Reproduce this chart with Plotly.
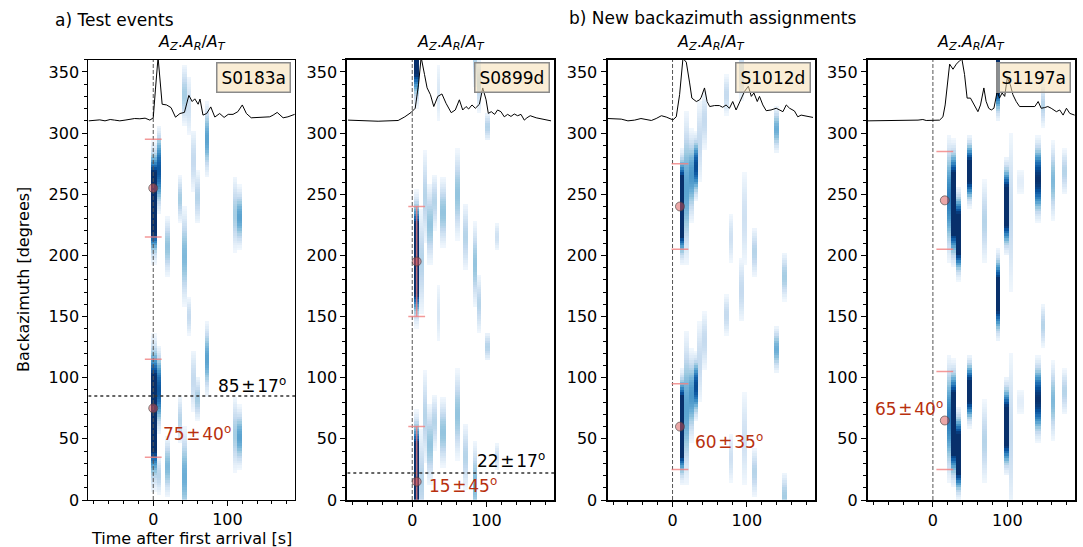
import numpy as np
import plotly.graph_objects as go

W, H = 1083, 547

# ---------------- data ----------------
event_names = ["S0183a", "S0899d", "S1012d", "S1197a"]

# Az.Ar/At characteristic trace (time [s], plotted value on baz axis)
p1_t = [-87,-78,-72,-65,-58,-52,-45,-38,-31,-25,-18,-11,-4.5,0,3,6.5,12,18,24,30,36,42,48,52.5,56,60.5,63,67,72,77.5,83,89.5,95.5,101,107.5,114,120,125.5,132,141,150,157,161.5,167,175,181.5,190.5]
p1_v = [310,310.3,310.8,310,311.1,310.6,310,310.6,311.1,311.9,311.7,312.2,310.6,312.5,336,362,323.6,323,320.8,313,316,316.9,330.8,325.8,328,323.6,327.8,314.7,316,321.4,313.1,316,312.8,315.3,315.3,317.5,323,316,312.5,313,313,313.3,314.7,316.9,312.5,313.3,315.3]
p2_t = [-86.5,-68.5,-46,-19,-10,-1.5,4,8.5,12,16.5,20,24.5,29,34.5,40,45.5,52.5,58,63.5,68,72.5,76,80.5,85,90.5,95,99.5,102.5,106.5,111,115,119.5,124,128.5,133,137.5,142,146.5,151,154.5,159,167,176,187]
p2_v = [310.6,310,309.7,310.3,313.3,316.9,320.3,340,362,348,337,331.4,321.7,330,332,324.4,316.7,318.9,327.2,318.9,321.7,319.7,323,320.3,323.6,336.9,327.2,316.1,317.5,315.3,318.9,317.5,313.3,315.3,313.6,315.6,314.2,315.3,310.6,312.5,314.2,312.5,311.1,310]
p3_t = [-87,-78,-69,-60,-51,-42.5,-35.5,-28.5,-22,-15,-8.5,-4,0.5,5,9.5,14,18.5,23,26,32,36.5,38.5,43,46.5,50,56.5,63,67.5,72,76.5,81,85.5,92.5,97,102,106,109.5,114,117,121.5,126,132.5,139.5,144,148.5,153,157.5,164,168.5,173,180,189]
p3_v = [311.9,311.4,311.4,310,310.6,311.9,311.1,310.3,311.9,314.2,313.1,311.9,310.8,313.3,331.4,361,358,341,328.6,325.8,327.2,329.2,336.9,325.8,321.7,322.5,322.5,321.1,323,320.3,325.8,318.9,328.6,334.2,338.3,330,332.8,325.8,330,323,318.3,318.9,320.3,318.9,317.5,323,320.3,318.1,313.3,314.7,313.9,312.8]
p4_t = [-87.5,-65,-38,-20,-13.5,-9,9,13.5,16.5,20,22.5,27,31.5,36,39,42.5,46,50.5,55,60.5,64,68.5,71.5,75,78.5,82,86.5,89.5,93,96.5,100,104,107.5,112,116.5,123,130,137,141.5,145.5,150,154.5,159,166,170.5,175,179.5,184,190.5]
p4_v = [310,310,310.3,310.6,311.1,310.3,310.6,313.3,323,342.5,356.4,352.2,356.4,359.2,360.5,348,328.6,328.6,323,317.5,323,336.9,326,320.3,318.9,320.3,334.2,328.6,332.8,330,345.3,339.7,331.4,325.8,321.7,321.7,321.7,321.7,325.8,320.3,320.8,321.7,320.3,317.5,318.9,314.7,320.3,316.1,314.7]

# Polarisation-density stripes:
# [t_start, t_end, baz_low, baz_high, peak_intensity]
p1_stripes = [
    [-2, 5.5, 188, 298, 1.8], [-2, 5.5, 0, 142, 1.7],
    [5.5, 11, 228, 312, 0.85], [5.5, 11, 48, 132, 0.85], [5.5, 11, 0, 40, 0.3],
    [16, 22.5, 177, 237, 0.4], [16, 22.5, -3, 57, 0.45],
    [33.5, 40, 222, 270, 0.35], [33.5, 40, 40, 90, 0.3],
    [40, 46, 300, 362, 0.35], [40, 46, 150, 248, 0.45], [40, 46, -30, 68, 0.5],
    [46, 52, 130, 170, 0.25], [46, 52, 290, 355, 0.2],
    [52, 58, 245, 310, 0.25], [52, 58, 65, 130, 0.25],
    [57, 64, 220, 275, 0.3], [57, 64, 60, 105, 0.35],
    [69.5, 76, 258, 332, 0.55], [69.5, 76, 78, 152, 0.55],
    [107.5, 114, 195, 272, 0.35], [107.5, 114, 15, 92, 0.35],
    [114, 120, 200, 262, 0.55], [114, 120, 20, 82, 0.55],
]
p2_stripes = [
    [3, 10, 136, 258, 1.9], [3, 10, -44, 78, 1.9], [3, 10, 316, 438, 1.9],
    [10, 17, 140, 250, 0.3], [10, 17, -40, 70, 0.3],
    [14.5, 21, 200, 296, 0.3], [14.5, 21, 20, 116, 0.3],
    [21, 28, 185, 265, 0.4], [21, 28, 5, 85, 0.4],
    [27, 33.5, 215, 272, 0.3], [27, 33.5, 35, 92, 0.3],
    [33.5, 38, 300, 365, 0.15], [33.5, 38, 120, 185, 0.15],
    [38, 46, 200, 270, 0.4], [38, 46, 20, 90, 0.4],
    [58, 65, 205, 295, 0.4], [58, 65, 25, 115, 0.4],
    [69, 75.5, 180, 250, 0.3], [69, 75.5, 0, 70, 0.3],
    [83, 88, 150, 235, 0.4], [83, 88, -30, 55, 0.45], [83, 88, 330, 415, 0.4],
    [88, 94, 310, 370, 0.3], [88, 94, 130, 190, 0.3],
    [98.5, 105, 290, 320, 0.3], [98.5, 105, 110, 140, 0.3],
    [112, 118, 200, 230, 0.2], [112, 118, 20, 50, 0.2],
]
p3_stripes = [
    [10, 16, 188, 292, 1.9], [10, 16, 8, 112, 1.9],
    [16, 22, 180, 330, 0.55], [16, 22, 0, 150, 0.55],
    [22, 28.5, 220, 310, 0.6], [22, 28.5, 40, 130, 0.6],
    [28.5, 35, 240, 305, 0.9], [28.5, 35, 60, 125, 0.9],
    [33, 39.5, 250, 335, 0.25], [33, 39.5, 70, 155, 0.25],
    [39.5, 46.5, 100, 160, 0.25], [39.5, 46.5, 280, 340, 0.25],
    [69, 75.5, 130, 172, 0.25], [69, 75.5, 310, 352, 0.25],
    [75.5, 82, 188, 240, 0.2], [75.5, 82, 8, 60, 0.2],
    [89, 96, 138, 205, 0.25], [89, 96, 318, 385, 0.25],
    [94, 100.5, 180, 280, 0.2], [94, 100.5, 0, 100, 0.2],
    [107, 114, 177, 228, 0.3], [107, 114, -3, 48, 0.3],
    [136, 143, 280, 326, 0.5], [136, 143, 100, 146, 0.5],
    [147.5, 154, 158, 207, 0.35], [147.5, 154, -22, 27, 0.35],
]
p4_stripes = [
    [18.5, 24.5, 185, 307, 0.7], [18.5, 24.5, 5, 127, 0.7],
    [24.5, 32, 185, 300, 1.7], [24.5, 32, 5, 120, 1.7],
    [32, 37.5, 175, 260, 1.5], [32, 37.5, -5, 80, 1.5],
    [45.5, 53, 235, 302, 1.2], [45.5, 53, 55, 122, 1.2],
    [66.5, 73, 185, 270, 0.3], [66.5, 73, 5, 90, 0.3],
    [84.5, 91, 125, 210, 1.3], [84.5, 91, 305, 390, 1.3],
    [95.5, 102.5, 195, 285, 1.4], [95.5, 102.5, 15, 105, 1.4],
    [102, 108, 150, 320, 0.25], [102, 108, -30, 140, 0.25],
    [113, 122.5, 245, 275, 0.1], [113, 122.5, 65, 95, 0.1],
    [138, 145, 222, 302, 1.0], [138, 145, 42, 122, 1.0],
    [145, 151, 300, 345, 0.3], [145, 151, 120, 165, 0.3],
    [158.5, 164, 222, 300, 0.45], [158.5, 164, 42, 120, 0.45],
    [174, 180, 245, 292, 0.3], [174, 180, 65, 112, 0.3],
]

# picked backazimuths (with 180 deg ambiguity) and uncertainties
pick_t = [0, 6, 10, 16]
pick_baz = [75, 15, 60, 65]
pick_baz_alt = [255, 195, 240, 245]
pick_err = [40, 45, 35, 40]
# whether the error-bar stem is visible (it is hidden under the density map except for S0899d)
stem_visible = [False, True, False, False]

# catalogue reference backazimuths (first two events)
ref_baz = [85, 22]
ref_err = [17, 17]

trace_t = [p1_t, p2_t, p3_t, p4_t]
trace_v = [p1_v, p2_v, p3_v, p4_v]
stripes = [p1_stripes, p2_stripes, p3_stripes, p4_stripes]

# ---------------- layout helpers ----------------
px_x = [(88.3, 295.0), (347.3, 554.0), (607.5, 814.5), (867.8, 1075.0)]
y_top, y_bot = 59.7, 500.0
XR = [-87.5, 191]
FONT = "DejaVu Sans"
RED = "#b8300e"
PINK = "rgba(240,128,128,0.8)"
HS = "\u200a"

t_c = np.arange(-87.0, 191.0, 1.0)
b_c = np.arange(1.0, 360.0, 2.0)


def build_z(st):
    z = np.zeros((len(b_c), len(t_c)))
    for t0, t1, lo, hi, pk in st:
        c = 0.5 * (lo + hi)
        hw = 0.5 * (hi - lo)
        cols = (t_c >= t0) & (t_c < t1)
        d = (b_c - c) / hw
        prof = np.where(np.abs(d) < 1, 0.5 * (1 + np.cos(np.pi * d)), 0.0) * pk
        z[:, cols] = np.maximum(z[:, cols], prof[:, None])
    z = np.clip(z, 0, 1)
    z[z < 0.03] = np.nan
    return z


blues = [[0.0, "#f7fbff"], [0.125, "#deebf7"], [0.25, "#c6dbef"], [0.375, "#9ecae1"],
         [0.5, "#6baed6"], [0.625, "#4292c6"], [0.75, "#2171b5"], [0.875, "#08519c"],
         [1.0, "#08306b"]]

fig = go.Figure()
layout = dict(width=W, height=H, margin=dict(l=0, r=0, t=0, b=0, autoexpand=False),
              plot_bgcolor="white", paper_bgcolor="white", showlegend=False,
              font=dict(family=FONT, size=16, color="black"))
annotations = []

for i in range(4):
    ax = "" if i == 0 else str(i + 1)
    xa, ya = "x" + ax, "y" + ax
    lw = 1 if i == 0 else 2
    fig.add_trace(go.Heatmap(x=t_c, y=b_c, z=build_z(stripes[i]), colorscale=blues,
                             zmin=0, zmax=1, showscale=False, xaxis=xa, yaxis=ya,
                             hoverinfo="skip"))
    # vertical line at first arrival
    fig.add_trace(go.Scatter(x=[0, 0], y=[0, 360], mode="lines", xaxis=xa, yaxis=ya,
                             line=dict(color="#555555", width=1, dash="4px,2px")))
    # characteristic trace
    fig.add_trace(go.Scatter(x=trace_t[i], y=trace_v[i], mode="lines", xaxis=xa, yaxis=ya,
                             line=dict(color="black", width=1)))
    # reference baz line
    if i < len(ref_baz):
        fig.add_trace(go.Scatter(x=XR, y=[ref_baz[i], ref_baz[i]], mode="lines",
                                 xaxis=xa, yaxis=ya,
                                 line=dict(color="#333333", width=1.5, dash="dot")))
    # error-bar stems (only where visible in the original)
    if stem_visible[i]:
        sx, sy = [], []
        for b in (pick_baz[i], pick_baz_alt[i]):
            sx += [pick_t[i], pick_t[i], None]
            sy += [b - pick_err[i], b + pick_err[i], None]
        fig.add_trace(go.Scatter(x=sx, y=sy, mode="lines", xaxis=xa, yaxis=ya,
                                 line=dict(color=PINK, width=1.5)))
    # error-bar caps
    cy = [pick_baz[i] - pick_err[i], pick_baz[i] + pick_err[i],
          pick_baz_alt[i] - pick_err[i], pick_baz_alt[i] + pick_err[i]]
    fig.add_trace(go.Scatter(
        x=[pick_t[i]] * 4, y=cy, mode="markers", xaxis=xa, yaxis=ya, cliponaxis=True,
        marker=dict(symbol="line-ew", size=12, color=PINK, line=dict(color=PINK, width=1.5))))
    # pick markers
    fig.add_trace(go.Scatter(
        x=[pick_t[i], pick_t[i]], y=[pick_baz[i], pick_baz_alt[i]], mode="markers",
        xaxis=xa, yaxis=ya,
        marker=dict(size=9, color="rgba(215,80,80,0.5)",
                    line=dict(color="rgba(60,60,60,0.6)", width=1))))

    x0, x1 = px_x[i]
    layout["xaxis" + ax] = dict(
        domain=[x0 / W, x1 / W], anchor=ya, range=XR, dtick=100, tick0=0,
        ticks="outside", ticklen=5, tickwidth=1, tickcolor="black",
        minor=dict(dtick=20, tick0=0, ticks="outside", ticklen=3, tickcolor="black"),
        showline=True, mirror=True, linecolor="black", linewidth=lw, automargin=False,
        showgrid=False, zeroline=False, tickfont=dict(size=16, family=FONT))
    layout["yaxis" + ax] = dict(
        domain=[(H - y_bot) / H, (H - y_top) / H], anchor=xa, range=[0, 360],
        dtick=50, tick0=0, ticks="outside", ticklen=5, tickwidth=1, tickcolor="black",
        minor=dict(dtick=10, tick0=0, ticks="outside", ticklen=3, tickcolor="black"),
        showline=True, mirror=True, linecolor="black", linewidth=lw, automargin=False,
        showgrid=False, zeroline=False, tickfont=dict(size=16, family=FONT))

    # panel title
    annotations.append(dict(
        x=(x0 + x1) / 2 / W, y=(H - 43) / H, xref="paper", yref="paper",
        text="<i>A</i><sub><i>Z</i></sub>.<i>A</i><sub><i>R</i></sub>/<i>A</i><sub><i>T</i></sub>",
        showarrow=False, font=dict(size=16, family=FONT), xanchor="center", yanchor="middle"))
    # event name box
    annotations.append(dict(
        x=1 - 4 / (x1 - x0), y=1 - 2.5 / (y_bot - y_top), xref=xa + " domain", yref=ya + " domain",
        text=event_names[i], showarrow=False, xanchor="right", yanchor="top",
        font=dict(size=17, family=FONT), bgcolor="rgba(245,222,179,0.55)",
        bordercolor="#8a8a8a", borderwidth=1.5, borderpad=4))

# red pick labels
red_pos = [(10, 55, "left"), (20.5, 12, "left"), (28, 48, "left"), (-80, 75, "left")]
for i in range(4):
    ax = "" if i == 0 else str(i + 1)
    tx, ty, anc = red_pos[i]
    annotations.append(dict(
        x=tx, y=ty, xref="x" + ax, yref="y" + ax, showarrow=False, xanchor=anc,
        yanchor="middle", text=f"{pick_baz[i]}{HS}±{HS}{pick_err[i]}<sup>o</sup>",
        font=dict(size=17, family=FONT, color=RED)))
# black reference labels
ref_pos = [(182, 94), (182, 33)]
for i in range(2):
    ax = "" if i == 0 else str(i + 1)
    tx, ty = ref_pos[i]
    annotations.append(dict(
        x=tx, y=ty, xref="x" + ax, yref="y" + ax, showarrow=False, xanchor="right",
        yanchor="middle", text=f"{ref_baz[i]}{HS}±{HS}{ref_err[i]}<sup>o</sup>",
        font=dict(size=17, family=FONT, color="black")))

annotations += [
    dict(x=53 / W, y=(H - 20) / H, xref="paper", yref="paper", text="a) Test events",
         showarrow=False, xanchor="left", yanchor="middle", font=dict(size=17, family=FONT)),
    dict(x=567 / W, y=(H - 18) / H, xref="paper", yref="paper",
         text="b) New backazimuth assignments", showarrow=False, xanchor="left",
         yanchor="middle", font=dict(size=17, family=FONT)),
    dict(x=23 / W, y=(H - 280) / H, xref="paper", yref="paper", text="Backazimuth [degrees]",
         textangle=-90, showarrow=False, xanchor="center", yanchor="middle",
         font=dict(size=16, family=FONT)),
    dict(x=191 / W, y=(H - 538) / H, xref="paper", yref="paper",
         text="Time after first arrival [s]", showarrow=False, xanchor="center",
         yanchor="middle", font=dict(size=16, family=FONT)),
]
layout["annotations"] = annotations
fig.update_layout(**layout)
fig.write_html("out.html")
